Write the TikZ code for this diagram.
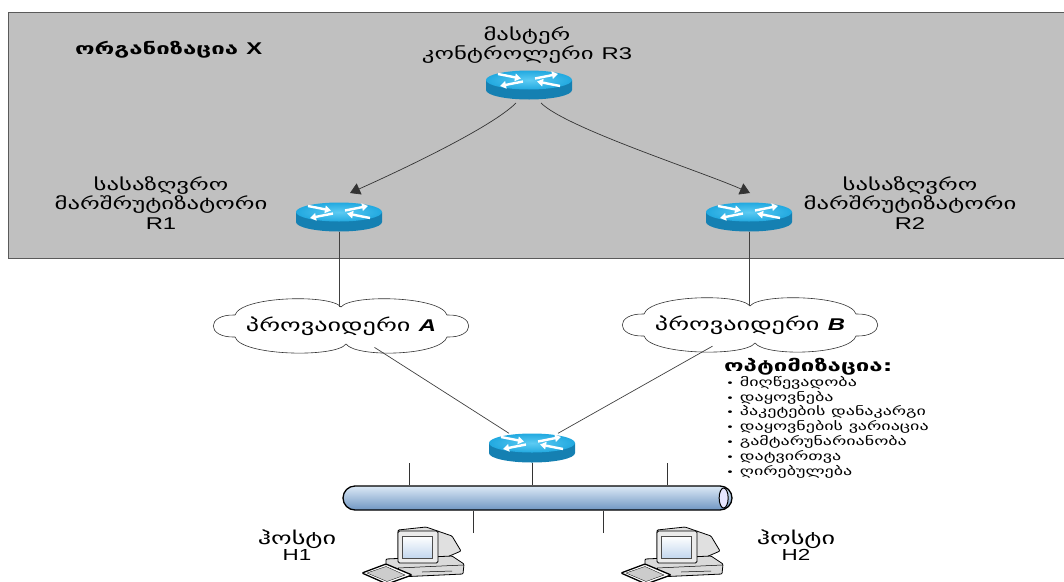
\documentclass[tikz,border=0pt]{standalone}
\usepackage{fontspec}
\setmainfont{Liberation Sans}[FakeStretch=1.4]
\newfontfamily\geo{DejaVu Sans}[FakeStretch=1.5]
\usetikzlibrary{arrows.meta,shapes.geometric,calc}

\definecolor{panel}{HTML}{C0C0C0}
\definecolor{panelline}{HTML}{5A5A5A}
\definecolor{rtop}{HTML}{22A9E0}
\definecolor{rtoplight}{HTML}{5CCBF3}
\definecolor{rside}{HTML}{1580B2}
\definecolor{busA}{HTML}{DCE9F6}
\definecolor{busB}{HTML}{A3C3E4}
\definecolor{busC}{HTML}{6F96C2}
\definecolor{screen}{HTML}{C3D7EE}
\definecolor{case}{HTML}{DADADA}

% Latin letters are set in Liberation Sans
\newcommand\latn[2][16]{{\rmfamily\fontsize{#1}{18}\selectfont #2}}

\tikzset{
  router/.style={minimum width=86pt, minimum height=29pt, inner sep=0pt,
    path picture={
      \begin{scope}[shift={(path picture bounding box.center)}]
        \fill[rside] (-43,-5) -- (-43,5)
          arc[start angle=180, end angle=360, x radius=43pt, y radius=9.5pt]
          -- (43,-5) -- cycle;
        \shade[inner color=rtoplight, outer color=rtop]
          (0,-5) ellipse [x radius=43pt, y radius=9.5pt];
        \begin{scope}[white, line width=2.4pt,
            -{Triangle[length=6pt,width=7.5pt]}]
          \draw (-31,-11) -- (-8,-6.5);
          \draw (31,1) -- (8,-3.5);
          \draw (6,-6.5) -- (29,-11);
          \draw (-6,-3.5) -- (-29,1);
        \end{scope}
      \end{scope}}},
  lbl/.style={align=center, inner sep=0pt,
    font=\geo\fontsize{16.5}{19.5}\selectfont},
  provider/.style={ellipse, minimum width=250pt, minimum height=44pt,
    inner sep=0pt},
  provtext/.style={inner sep=0pt, font=\geo\fontsize{17.5}{19}\selectfont},
  cloudshape/.pic={
    \draw[fill=white, draw=black!80, line width=0.6pt]
      (-106,11) .. controls (-135,12) and (-135,-12) .. (-106,-11)
      .. controls (-100,-30) and (-10,-32) .. (0,-19)
      .. controls (10,-32) and (100,-30) .. (106,-11)
      .. controls (135,-12) and (135,12) .. (106,11)
      .. controls (100,30) and (15,32) .. (5,18)
      .. controls (-5,32) and (-100,30) .. cycle;
  },
  link/.style={draw=black!75, line width=0.7pt},
  ctrl/.style={draw=black!80, line width=0.7pt,
    -{Triangle[length=10pt,width=12pt]}},
  stub/.style={draw=black!80, line width=1pt},
  pc/.pic={
    % CRT body seen from the side
    \draw[fill=case!85!white, line width=0.8pt, rounded corners=1pt]
      (36,3) -- (64,0) -- (90,9) -- (99,24) -- (76,34) -- (36,34) -- cycle;
    % system unit
    \draw[fill=case, line width=0.8pt, rounded corners=1pt]
      (24,32) -- (90,29) -- (102,37) -- (101,47) -- (36,50) -- (24,42) -- cycle;
    \draw[line width=0.5pt] (36,41) -- (101,38);
    \draw[line width=0.5pt] (36,41) -- (36,50);
    \draw[line width=0.5pt] (60,45) -- (90,44);
    % monitor front
    \draw[fill=white!92!black, line width=0.8pt, rounded corners=1.5pt]
      (36,4) rectangle (76,36);
    \shade[top color=white, bottom color=screen, draw=black!70, line width=0.5pt]
      (40,9) rectangle (70,31);
    % keyboard
    \draw[fill=white, line width=1.3pt, rounded corners=1pt]
      (0,46) -- (24,37) -- (50,48) -- (25,57) -- cycle;
    \draw[fill=black!20, line width=0.3pt]
      (5,46) -- (24,39.5) -- (43,48) -- (25,54.5) -- cycle;
  }
}

\begin{document}
\begin{tikzpicture}[x=1pt, y=-1pt]
  \useasboundingbox (0,0) rectangle (1064,581);

  % organisation panel
  \path[fill=panel, draw=panelline, line width=1pt] (8,12) rectangle (1072,258);
  \node[anchor=west, inner sep=0pt, font=\geo\bfseries\fontsize{16}{18}\selectfont]
    (org) at (75,50) {ორგანიზაცია \latn[17]{\bfseries X}};

  % routers
  \node[router] (r3) at (529,85) {};
  \node[router] (r1) at (339,217) {};
  \node[router] (r2) at (749,217) {};
  \node[router] (r0) at (532,448) {};

  \node[lbl] (r3lbl) at (527,45) {მასტერ\\კონტროლერი \latn[17]{R3}};
  \node[lbl] (r1lbl) at (161,203) {სასაზღვრო\\მარშრუტიზატორი\\\latn[17]{R1}};
  \node[lbl] (r2lbl) at (910,203) {სასაზღვრო\\მარშრუტიზატორი\\\latn[17]{R2}};

  % controller to border routers
  \coordinate (c3l) at (516,103);
  \coordinate (c3r) at (541,103);
  \coordinate (t1) at (350,193);
  \coordinate (t2) at (750,193);
  \draw[ctrl] (c3l) .. controls (491,128) and (397,172) .. (t1);
  \draw[ctrl] (c3r) .. controls (566,128) and (703,172) .. (t2);

  % providers
  \node[provider] (pa) at (341,326) {};
  \node[provider] (pb) at (750,325) {};
  \pic at (pa) {cloudshape};
  \pic at (pb) {cloudshape};
  \coordinate (patop) at ($(pa)+(0,-19)$);
  \coordinate (pbtop) at ($(pb)+(0,-19)$);
  \node[provtext] (patext) at (pa) {პროვაიდერი \latn[17]{\textbf{\textit{A}}}};
  \node[provtext] (pbtext) at (pb) {პროვაიდერი \latn[17]{\textbf{\textit{B}}}};

  \draw[link] (r1.south) -- (r1.south |- patop);
  \draw[link] (r2.south) -- (r2.south |- pbtop);
  \draw[link] (pa) -- (r0);
  \draw[link] (pb) -- (r0);

  % shared segment
  \node[minimum width=389pt, minimum height=24pt, inner sep=0pt,
        rounded corners=12pt, draw=black, line width=1.3pt,
        top color=busA, middle color=busB, bottom color=busC]
    (bus) at (537.5,498) {};
  \draw[fill=white!90!blue, line width=1pt] ($(bus.east)+(-9,0)$)
    ellipse [x radius=4.5pt, y radius=10pt];

  \coordinate (s1) at (409,463);
  \coordinate (s2) at (667,463);
  \coordinate (s3) at (473,533);
  \coordinate (s4) at (603,533);
  \draw[stub] (r0.south) -- (r0.south |- bus.north);
  \draw[stub] (s1) -- (s1 |- bus.north);
  \draw[stub] (s2) -- (s2 |- bus.north);
  \draw[stub] (s3) -- (s3 |- bus.south);
  \draw[stub] (s4) -- (s4 |- bus.south);

  % hosts
  \pic at (362,527) {pc};
  \pic at (621,527) {pc};
  \node[lbl, font=\geo\fontsize{17.5}{16.5}\selectfont] (h1lbl) at (297,545)
    {ჰოსტი\\\latn{H1}};
  \node[lbl, font=\geo\fontsize{17.5}{16.5}\selectfont] (h2lbl) at (796,545)
    {ჰოსტი\\\latn{H2}};

  % optimisation criteria
  \node[anchor=north west, align=left, inner sep=0pt,
        font=\geo\bfseries\fontsize{16}{15}\selectfont] (opt) at (724,358)
    {ოპტიმიზაცია:};
  \node[anchor=north west, align=left, inner sep=0pt,
        font=\geo\fontsize{12}{14.8}\selectfont] (optlist) at (726,376)
    {{\fontsize{9}{10}\selectfont•} მიღწევადობა\\
     {\fontsize{9}{10}\selectfont•} დაყოვნება\\
     {\fontsize{9}{10}\selectfont•} პაკეტების დანაკარგი\\
     {\fontsize{9}{10}\selectfont•} დაყოვნების ვარიაცია\\
     {\fontsize{9}{10}\selectfont•} გამტარუნარიანობა\\
     {\fontsize{9}{10}\selectfont•} დატვირთვა\\
     {\fontsize{9}{10}\selectfont•} ღირებულება};
\end{tikzpicture}
\end{document}
